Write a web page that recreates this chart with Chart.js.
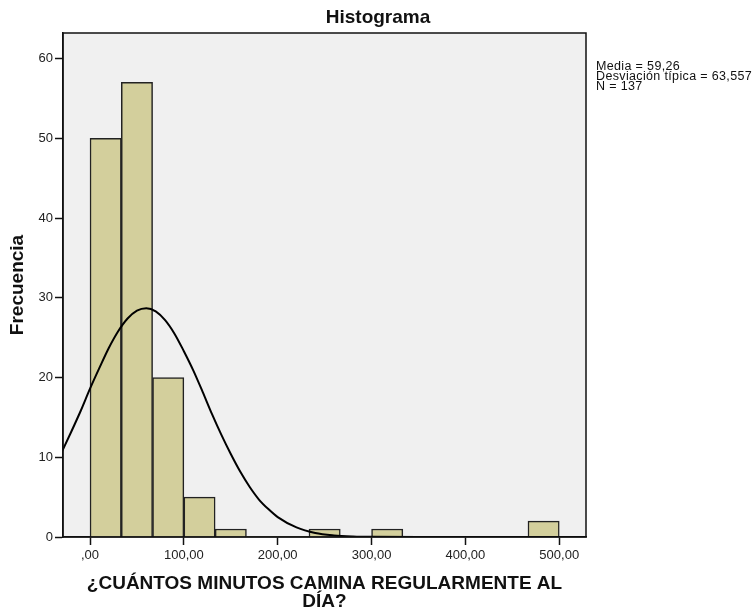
<!DOCTYPE html>
<html>
<head>
<meta charset="utf-8">
<script src="https://cdn.jsdelivr.net/npm/chart.js@4/dist/chart.umd.min.js"></script>
<style>
  body { margin: 0; background: #fff; }
  canvas { display: block; }
</style>
</head>
<body>
<canvas id="myChart" width="756" height="611"></canvas>
<script>
// datos del histograma (intervalos de 33,33 minutos)
const binMid = [16.67, 50, 83.33, 116.67, 150, 183.33, 216.67, 250, 283.33, 316.67, 350, 383.33, 416.67, 450, 483.33];
const counts = [50, 57, 20, 5, 1, 0, 0, 1, 0, 1, 0, 0, 0, 0, 2];

// curva normal
const curveX = [-30, -20, -10, 0, 10, 20, 30, 40, 50, 60, 70, 80, 90, 100, 110, 120, 130, 140, 150, 160, 170, 180, 190, 200, 220, 240, 260, 280, 300, 350, 400, 530];
const curveY = [10.7, 13.2, 15.8, 18.6, 21.2, 23.7, 25.8, 27.4, 28.4, 28.7, 28.3, 27.2, 25.5, 23.3, 20.9, 18.2, 15.4, 12.8, 10.4, 8.2, 6.3, 4.7, 3.5, 2.5, 1.2, 0.5, 0.2, 0.07, 0.02, 0, 0, 0];

const xTickLabels = [',00', '100,00', '200,00', '300,00', '400,00', '500,00'];
const statsLines = ['Media = 59,26', 'Desviación típica = 63,557', 'N = 137'];
const chartTitle = 'Histograma';

const fontFam = 'Arial, "Liberation Sans", sans-serif';

var ctx = document.getElementById('myChart').getContext('2d');

// fondo gris, marco, titulo y estadisticos
const spssPlugin = {
    id: 'spss',
    beforeDraw(chart) {
        const a = chart.chartArea;
        const c = chart.ctx;
        c.save();
        c.fillStyle = '#F0F0F0';
        c.fillRect(a.left, a.top, a.right - a.left, a.bottom - a.top);
        c.restore();
    },
    afterDatasetsDraw(chart) {
        const a = chart.chartArea;
        const c = chart.ctx;
        c.save();
        c.strokeStyle = '#111';
        c.lineWidth = 1.5;
        c.strokeRect(a.left, a.top, a.right - a.left, a.bottom - a.top);
        c.restore();
    },
    afterDraw(chart) {
        const c = chart.ctx;
        c.save();
        c.fillStyle = '#111';
        c.textBaseline = 'middle';
        c.textAlign = 'center';
        c.font = 'bold 19px ' + fontFam;
        c.fillText(chartTitle, chart.width / 2, 18);
        c.textAlign = 'left';
        c.font = '12.5px ' + fontFam;
        c.letterSpacing = '0.35px';
        statsLines.forEach(function (t, i) {
            c.fillText(t, 596, 67 + i * 9.8);
        });
        c.restore();
    }
};

var chartConfig = {
    data: {
        datasets: [{
            type: 'line',
            order: 0,
            data: curveX.map((x, i) => ({ x: x, y: curveY[i] })),
            borderColor: '#000',
            borderWidth: 2,
            pointRadius: 0,
            fill: false,
            cubicInterpolationMode: 'monotone'
        }, {
            type: 'bar',
            order: 1,
            data: binMid.map((x, i) => ({ x: x, y: counts[i] })),
            backgroundColor: '#D3CF9C',
            borderColor: '#222',
            borderWidth: counts.map(c => c > 0 ? 1.5 : 0),
            barPercentage: 1,
            categoryPercentage: 1
        }]
    },
    options: {
        responsive: false,
        animation: false,
        layout: { padding: { top: 33, right: 170, left: 0, bottom: 0 } },
        plugins: {
            legend: { display: false },
            tooltip: { enabled: false }
        },
        scales: {
            x: {
                type: 'linear',
                offset: false,
                min: -28.8,
                max: 528.5,
                afterFit: function (scale) { scale.height = 74; },
                border: { display: true, color: '#111', width: 1.5 },
                grid: { display: true, offset: false, drawOnChartArea: false, drawTicks: true, tickLength: 8, tickColor: '#111', tickWidth: 1.5 },
                ticks: {
                    stepSize: 100,
                    includeBounds: false,
                    maxRotation: 0,
                    padding: 3,
                    color: '#222',
                    font: { family: fontFam, size: 13 },
                    callback: function (value) { return xTickLabels[Math.round(value / 100)]; }
                },
                title: {
                    display: true,
                    text: ['¿CUÁNTOS MINUTOS CAMINA REGULARMENTE AL', 'DÍA?'],
                    color: '#111',
                    padding: { top: 0, bottom: 0 },
                    font: { family: fontFam, size: 19, weight: 'bold', lineHeight: '18px' }
                }
            },
            y: {
                type: 'linear',
                min: 0,
                max: 63.2,
                afterFit: function (scale) { scale.width = 63; },
                border: { display: true, color: '#111', width: 1.5 },
                grid: { display: true, drawOnChartArea: false, drawTicks: true, tickLength: 8, tickColor: '#111', tickWidth: 1.5 },
                ticks: {
                    stepSize: 10,
                    includeBounds: false,
                    padding: 2,
                    color: '#222',
                    font: { family: fontFam, size: 13 }
                },
                title: {
                    display: true,
                    text: 'Frecuencia',
                    color: '#111',
                    padding: { top: 8, bottom: 0 },
                    font: { family: fontFam, size: 19, weight: 'bold', lineHeight: '20px' }
                }
            }
        }
    },
    plugins: [spssPlugin]
};

var myChart = new Chart(ctx, chartConfig);
</script>
</body>
</html>
